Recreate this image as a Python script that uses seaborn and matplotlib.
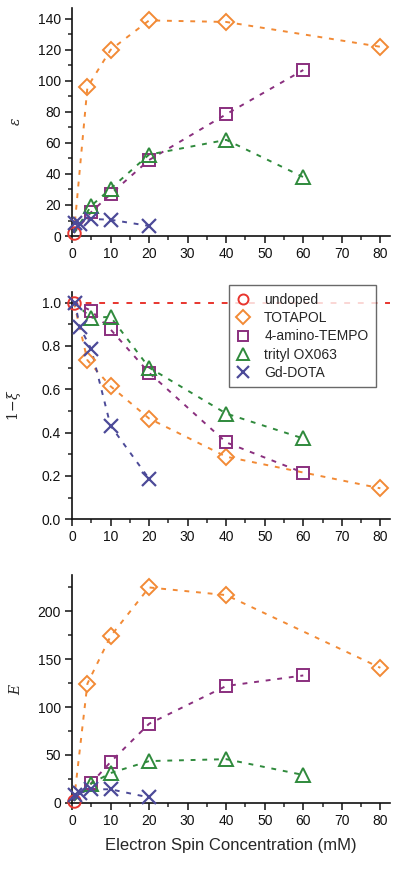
import numpy as np
import pandas as pd
import matplotlib
matplotlib.use('Agg')
import matplotlib.pyplot as plt
import seaborn as sb
from matplotlib.ticker import MultipleLocator

# data
names = ['undoped', 'TOTAPOL', '4-amino-TEMPO', 'trityl OX063', 'Gd-DOTA']
colors = ['#e8352e', '#f28a35', '#8a2f7e', '#2f8a3c', '#4c4a98']
markers = ['o', 'D', 's', '^', 'x']

undoped_x = [0.5]
undoped_eps = [2.0]
undoped_xi = [1.0]
undoped_E = [2.0]

totapol_x = [4, 10, 20, 40, 80]
totapol_eps = [96, 120, 139, 138, 122]
totapol_xi = [0.734, 0.614, 0.465, 0.289, 0.143]
totapol_E = [124.5, 174, 225, 217, 141]

tempo_x = [5, 10, 20, 40, 60]
tempo_eps = [15.5, 27, 49, 78.5, 107]
tempo_xi = [0.962, 0.876, 0.676, 0.355, 0.215]
tempo_E = [20.5, 42.5, 82.5, 122, 133]

trityl_x = [5, 10, 20, 40, 60]
trityl_eps = [19.5, 30.5, 52.5, 62, 38]
trityl_xi = [0.93, 0.934, 0.70, 0.488, 0.373]
trityl_E = [20, 31, 43.5, 45.5, 29]

gd_x = [0.8, 2, 5, 10, 20]
gd_eps = [8.5, 8, 11, 10.5, 6.5]
gd_xi = [1.0, 0.888, 0.785, 0.432, 0.187]
gd_E = [8, 10, 14, 14, 5.5]

xs = [undoped_x, totapol_x, tempo_x, trityl_x, gd_x]
panels = [
    ([undoped_eps, totapol_eps, tempo_eps, trityl_eps, gd_eps], r'$\varepsilon$', 147, 20),
    ([undoped_xi, totapol_xi, tempo_xi, trityl_xi, gd_xi], r'$1\!-\!\xi$', 1.05, 0.2),
    ([undoped_E, totapol_E, tempo_E, trityl_E, gd_E], r'$E$', 238, 50),
]

sb.set_style('ticks')
plt.rcParams['font.family'] = ['Liberation Sans', 'DejaVu Sans']
plt.rcParams['mathtext.fontset'] = 'dejavuserif'

fig = plt.figure(figsize=(4.0, 8.69), dpi=100)
boxes = [[0.18, 0.7284, 0.795, 0.2624],
         [0.18, 0.4024, 0.795, 0.2619],
         [0.18, 0.0763, 0.795, 0.2620]]

for p, (ys, ylab, ytop, ystep) in enumerate(panels):
    ax = fig.add_axes(boxes[p])
    for i in range(5):
        if i == 0:
            if p == 1:
                ax.axhline(ys[0][0], color=colors[0], ls=(0, (3, 4)), lw=1.4, zorder=1)
        else:
            lx = undoped_x + list(xs[i])
            ly = ys[0] + list(ys[i])
            sb.lineplot(x=lx, y=ly, ax=ax, color=colors[i], lw=1.4, ls=(0, (2.5, 3.5)),
                        sort=False, estimator=None, legend=False, zorder=2)
    for i in range(5):
        mew = 1.6 if markers[i] == 'x' else 1.4
        ms = {'o': 9, 'D': 8.5, 's': 9, '^': 10, 'x': 10}[markers[i]]
        sb.lineplot(x=xs[i], y=ys[i], ax=ax, color=colors[i], linestyle='none',
                    marker=markers[i], markersize=ms, markerfacecolor='none',
                    markeredgecolor=colors[i], markeredgewidth=mew,
                    sort=False, estimator=None, label=names[i], zorder=3, clip_on=False)
    ax.set_xlim(0, 82.5)
    ax.set_ylim(0, ytop)
    ax.xaxis.set_major_locator(MultipleLocator(10))
    ax.xaxis.set_minor_locator(MultipleLocator(5))
    ax.yaxis.set_major_locator(MultipleLocator(ystep))
    ax.yaxis.set_minor_locator(MultipleLocator(ystep / 2))
    ax.tick_params(which='major', direction='out', length=5, width=1.1, labelsize=10,
                   colors='#111111', pad=3)
    ax.tick_params(which='minor', direction='out', length=3, width=1.1)
    for s in ['left', 'bottom']:
        ax.spines[s].set_linewidth(1.2)
        ax.spines[s].set_color('#111111')
    sb.despine(ax=ax)
    if p == 1:
        ax.yaxis.set_major_formatter(matplotlib.ticker.FormatStrFormatter('%.1f'))
    ax.set_ylabel(ylab, fontsize=10)
    ax.yaxis.set_label_coords(-0.155, 0.5)
    if p == 1:
        leg = ax.legend(loc='upper right', bbox_to_anchor=(0.965, 1.04), fontsize=10,
                        frameon=True, fancybox=False, edgecolor='#444444',
                        handlelength=1.0, handletextpad=1.0, borderpad=0.55,
                        labelspacing=0.3, borderaxespad=0.2, markerscale=0.8)
        leg.get_frame().set_linewidth(1.0)
    else:
        ax.get_legend().remove() if ax.get_legend() else None
    if p == 2:
        ax.set_xlabel('Electron Spin Concentration (mM)', fontsize=12, labelpad=7)
    else:
        ax.set_xlabel('')

fig.savefig('out.png', dpi=100)
